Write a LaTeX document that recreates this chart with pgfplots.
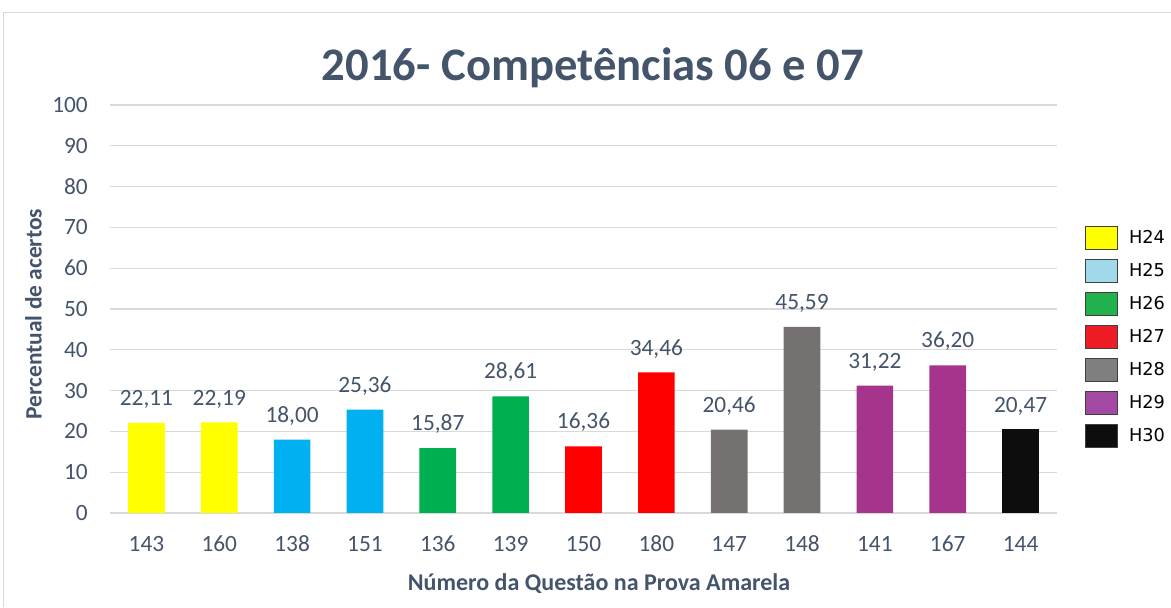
\documentclass[border=0pt]{standalone}
\usepackage{fontspec}
\setmainfont{Carlito}
\newfontfamily\legfont{DejaVu Sans}
\usepackage{pgfplots}
\pgfplotsset{compat=1.18}
\definecolor{textc}{HTML}{44546A}
\definecolor{gridc}{HTML}{D9D9D9}
\definecolor{borderc}{HTML}{D9D9D9}
\definecolor{cyel}{HTML}{FFFF00}
\definecolor{cblue}{HTML}{00B0F0}
\definecolor{cgreen}{HTML}{00B050}
\definecolor{cred}{HTML}{FF0000}
\definecolor{cgray}{HTML}{767171}
\definecolor{cpurp}{HTML}{A5358C}
\definecolor{cblack}{HTML}{0D0D0D}
\definecolor{lblue}{HTML}{9FD9EA}
\definecolor{lgreen}{HTML}{22B14C}
\definecolor{lred}{HTML}{ED1C24}
\definecolor{lgray}{HTML}{7F7F7F}
\definecolor{lpurp}{HTML}{A349A4}
\definecolor{lborder}{HTML}{404040}
\begin{document}
\begin{tikzpicture}
\useasboundingbox (0,0) rectangle (878.25pt,455.25pt);
\draw[borderc, line width=0.8pt] (2.6pt,0pt) -- (2.6pt,446pt) -- (878.25pt,446pt);
\begin{axis}[
  at={(82.5pt,70.5pt)}, anchor=south west,
  scale only axis, width=710.25pt, height=306pt,
  xmin=-0.5, xmax=12.5, ymin=0, ymax=100,
  ytick={0,10,...,100},
  xtick={0,1,...,12},
  xticklabels={143,160,138,151,136,139,150,180,147,148,141,167,144},
  axis line style={draw=none},
  major tick length=0pt,
  ymajorgrids, grid style={gridc, line width=1pt},
  /pgf/number format/assume math mode=true,
  tick label style={font=\fontsize{17.5}{20}\selectfont, text=textc},
  xticklabel style={anchor=base, yshift=-29pt},
  yticklabel style={anchor=east, inner sep=0pt, xshift=-16.5pt},
  title={2016- Competências 06 e 07},
  title style={at={(axis description cs:0.51,1)}, anchor=base, yshift=12pt,
    font=\fontsize{35}{40}\selectfont\bfseries, text=textc},
  xlabel={Número da Questão na Prova Amarela},
  xlabel style={at={(axis description cs:0.5164,0)}, anchor=base, yshift=-57.75pt,
    font=\fontsize{18}{20}\selectfont\bfseries, text=textc},
  ylabel={Percentual de acertos},
  ylabel style={at={(axis description cs:-0.0721,0.4877)}, anchor=base, rotate=0,
    font=\fontsize{17.6}{20}\selectfont\bfseries, text=textc},
  ybar, bar width=27.5pt,
  nodes near coords={\pgfmathprintnumber[fixed,fixed zerofill,precision=2,use comma]{\pgfplotspointmeta}},
  every node near coord/.append style={font=\fontsize{17.5}{20}\selectfont, text=textc, anchor=base, yshift=13pt, inner sep=0pt},
  legend image code/.code={\draw[#1, draw=lborder, line width=0.6pt] (0pt,-8.6pt) rectangle (24pt,8.6pt);},
  legend style={at={(axis description cs:1.0296,0.7034)}, anchor=north west,
    draw=none, fill=none, inner sep=0pt, row sep=6.95pt,
    font=\legfont\fontsize{13.3}{15}\selectfont, text=black,
    nodes={inner sep=0pt},
    /tikz/every odd column/.append style={column sep=8.25pt}},
  legend cell align=left,
]
\addplot[fill=cyel, draw=none, bar shift=0pt, forget plot] coordinates {(0,22.11) (1,22.19)};
\addplot[fill=cblue, draw=none, bar shift=0pt, forget plot] coordinates {(2,18.00) (3,25.36)};
\addplot[fill=cgreen, draw=none, bar shift=0pt, forget plot] coordinates {(4,15.87) (5,28.61)};
\addplot[fill=cred, draw=none, bar shift=0pt, forget plot] coordinates {(6,16.36) (7,34.46)};
\addplot[fill=cgray, draw=none, bar shift=0pt, forget plot] coordinates {(8,20.46) (9,45.59)};
\addplot[fill=cpurp, draw=none, bar shift=0pt, forget plot] coordinates {(10,31.22) (11,36.20)};
\addplot[fill=cblack, draw=none, bar shift=0pt, forget plot] coordinates {(12,20.47)};
\addlegendimage{fill=cyel}
\addlegendimage{fill=lblue}
\addlegendimage{fill=lgreen}
\addlegendimage{fill=lred}
\addlegendimage{fill=lgray}
\addlegendimage{fill=lpurp}
\addlegendimage{fill=cblack}
\legend{H24,H25,H26,H27,H28,H29,H30}
\end{axis}
\end{tikzpicture}
\end{document}
